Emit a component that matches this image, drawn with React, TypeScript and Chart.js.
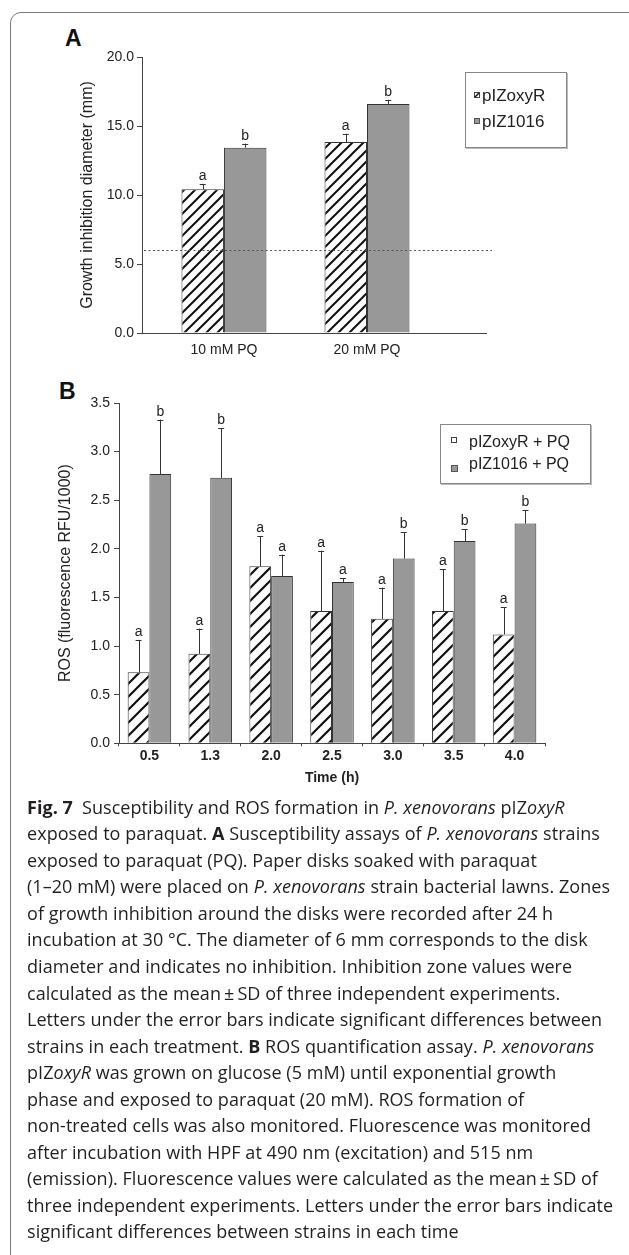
import React, { useEffect, useRef } from 'react';
import { Chart, registerables } from 'chart.js';

Chart.register(...registerables);

// ---------- Panel A data ----------
const categoriesA = ['10 mM PQ', '20 mM PQ'];
const zoxyRA = [10.41, 13.84];
const zoxyRAErr = [0.39, 0.6];
const z1016A = [13.43, 16.6];
const z1016AErr = [0.29, 0.3];
const lettersZoxyRA = ['a', 'a'];
const letters1016A = ['b', 'b'];
const thresholdA = 6.0;

// ---------- Panel B data ----------
const timesB = ['0.5', '1.3', '2.0', '2.5', '3.0', '3.5', '4.0'];
const zoxyRB = [0.73, 0.92, 1.82, 1.36, 1.28, 1.36, 1.12];
const zoxyRBErr = [0.33, 0.26, 0.31, 0.62, 0.32, 0.43, 0.28];
const z1016B = [2.77, 2.73, 1.72, 1.66, 1.9, 2.08, 2.26];
const z1016BErr = [0.56, 0.51, 0.22, 0.04, 0.27, 0.12, 0.14];
const lettersZoxyRB = ['a', 'a', 'a', 'a', 'a', 'a', 'a'];
const letters1016B = ['b', 'b', 'a', 'a', 'b', 'b', 'b'];

const FONT = "'Liberation Sans', Arial, Helvetica, sans-serif";
const TEXT = '#222';
const AXIS = '#444';
const GRAY = '#989898';
const EDGE = '#333';

function makeHatch(ctx: CanvasRenderingContext2D, size: number, lw: number) {
  const c = document.createElement('canvas');
  c.width = size;
  c.height = size;
  const g = c.getContext('2d')!;
  g.fillStyle = '#fff';
  g.fillRect(0, 0, size, size);
  g.strokeStyle = '#111';
  g.lineWidth = lw;
  g.beginPath();
  g.moveTo(-1, size + 1);
  g.lineTo(size + 1, -1);
  g.moveTo(-size / 2 - 1, size / 2 + 1);
  g.lineTo(size / 2 + 1, -size / 2 - 1);
  g.moveTo(size / 2 - 1, size * 1.5 + 1);
  g.lineTo(size * 1.5 + 1, size / 2 - 1);
  g.stroke();
  return ctx.createPattern(c, 'repeat')!;
}

const errorBarPlugin = {
  id: 'errorBars',
  afterDatasetsDraw(chart: any) {
    const ctx = chart.ctx;
    const ys = chart.scales.y;
    chart.data.datasets.forEach((ds: any, di: number) => {
      const meta = chart.getDatasetMeta(di);
      meta.data.forEach((bar: any, i: number) => {
        const d = ds.data[i];
        const v = typeof d === 'number' ? d : d.y;
        const e = ds.errors[i];
        const top = ys.getPixelForValue(v + e);
        ctx.save();
        ctx.strokeStyle = EDGE;
        ctx.lineWidth = 1;
        ctx.beginPath();
        ctx.moveTo(Math.round(bar.x) + 0.5, bar.y);
        ctx.lineTo(Math.round(bar.x) + 0.5, top);
        ctx.moveTo(bar.x - 3, Math.round(top) + 0.5);
        ctx.lineTo(bar.x + 3, Math.round(top) + 0.5);
        ctx.stroke();
        ctx.fillStyle = TEXT;
        ctx.font = `14px ${FONT}`;
        ctx.textAlign = 'center';
        ctx.textBaseline = 'alphabetic';
        ctx.fillText(ds.letters[i], bar.x, top - 4);
        ctx.restore();
      });
    });
  },
};

const thresholdPlugin = {
  id: 'threshold',
  afterDatasetsDraw(chart: any, _args: any, opts: any) {
    if (opts == null || opts.value == null) return;
    const ctx = chart.ctx;
    const y = Math.round(chart.scales.y.getPixelForValue(opts.value)) + 0.5;
    ctx.save();
    ctx.strokeStyle = '#555';
    ctx.lineWidth = 1.2;
    ctx.setLineDash([2, 2.5]);
    ctx.beginPath();
    ctx.moveTo(chart.chartArea.left + 2, y);
    ctx.lineTo(chart.chartArea.right + 6, y);
    ctx.stroke();
    ctx.restore();
  },
};

function ChartA() {
  const ref = useRef<HTMLCanvasElement>(null);
  useEffect(() => {
    const canvas = ref.current!;
    const ctx = canvas.getContext('2d')!;
    const hatch = makeHatch(ctx, 11, 2);
    const chart = new Chart(canvas, {
      type: 'bar',
      data: {
        datasets: [
          {
            label: 'pIZoxyR',
            data: zoxyRA.map((v, i) => ({ x: i + 1, y: v })),
            backgroundColor: hatch,
            borderColor: EDGE,
            borderWidth: 1,
            categoryPercentage: 0.594,
            barPercentage: 1,
            errors: zoxyRAErr,
            letters: lettersZoxyRA,
          } as any,
          {
            label: 'pIZ1016',
            data: z1016A.map((v, i) => ({ x: i + 1, y: v })),
            backgroundColor: GRAY,
            borderColor: EDGE,
            borderWidth: 1,
            categoryPercentage: 0.594,
            barPercentage: 1,
            errors: z1016AErr,
            letters: letters1016A,
          } as any,
        ],
      },
      options: {
        animation: false,
        responsive: false,
        layout: { padding: { left: 78, top: 57, right: 143, bottom: 0 } },
        plugins: {
          legend: { display: false },
          tooltip: { enabled: false },
          threshold: { value: thresholdA },
        } as any,
        scales: {
          x: {
            type: 'linear',
            min: 0.427,
            max: 2.832,
            offset: false,
            afterFit: (s: any) => {
              s.height = 37;
            },
            afterBuildTicks: (s: any) => {
              s.ticks = categoriesA.map((_, i) => ({ value: i + 1 }));
            },
            grid: { display: false, drawTicks: false },
            border: { display: true, color: AXIS, width: 1 },
            ticks: {
              padding: 9,
              color: TEXT,
              font: { family: FONT, size: 14 },
              autoSkip: false,
              maxRotation: 0,
              callback: (v: any) => categoriesA[Number(v) - 1] ?? '',
            },
          },
          y: {
            min: 0,
            max: 20,
            afterFit: (s: any) => {
              s.width = 64;
            },
            ticks: {
              stepSize: 5,
              padding: 3,
              color: TEXT,
              font: { family: FONT, size: 14 },
              callback: (v: any) => Number(v).toFixed(1),
            },
            grid: { drawOnChartArea: false, tickLength: 5, color: AXIS },
            border: { color: AXIS, width: 1 },
            title: {
              display: true,
              text: 'Growth inhibition diameter (mm)',
              padding: 0,
              color: TEXT,
              font: { family: FONT, size: 16 },
            },
          },
        },
      } as any,
      plugins: [errorBarPlugin, thresholdPlugin],
    });
    return () => chart.destroy();
  }, []);
  return (
    <canvas
      ref={ref}
      width={629}
      height={370}
      style={{ position: 'absolute', left: 0, top: 0, width: 629, height: 370 }}
    />
  );
}

function ChartB() {
  const ref = useRef<HTMLCanvasElement>(null);
  useEffect(() => {
    const canvas = ref.current!;
    const ctx = canvas.getContext('2d')!;
    const hatch = makeHatch(ctx, 13, 2.2);
    const chart = new Chart(canvas, {
      type: 'bar',
      data: {
        labels: timesB,
        datasets: [
          {
            label: 'pIZoxyR + PQ',
            data: zoxyRB,
            backgroundColor: hatch,
            borderColor: EDGE,
            borderWidth: 1,
            categoryPercentage: 0.715,
            barPercentage: 1,
            errors: zoxyRBErr,
            letters: lettersZoxyRB,
          } as any,
          {
            label: 'pIZ1016 + PQ',
            data: z1016B,
            backgroundColor: GRAY,
            borderColor: EDGE,
            borderWidth: 1,
            categoryPercentage: 0.715,
            barPercentage: 1,
            errors: z1016BErr,
            letters: letters1016B,
          } as any,
        ],
      },
      options: {
        animation: false,
        responsive: false,
        layout: { padding: { left: 56.4, top: 33, right: 84, bottom: 0 } },
        plugins: {
          legend: { display: false },
          tooltip: { enabled: false },
        },
        scales: {
          x: {
            type: 'category',
            offset: true,
            afterFit: (s: any) => {
              s.height = 56.7;
            },
            grid: { display: true, offset: true, drawOnChartArea: false, tickLength: 3, color: AXIS },
            border: { display: true, color: AXIS, width: 1 },
            ticks: {
              padding: 1,
              color: TEXT,
              font: { family: FONT, size: 14, weight: 'bold' },
              autoSkip: false,
              maxRotation: 0,
            },
            title: {
              display: true,
              text: 'Time (h)',
              padding: { top: 0, bottom: 13.6 },
              color: TEXT,
              font: { family: FONT, size: 14, weight: 'bold' },
            },
          },
          y: {
            min: 0,
            max: 3.5,
            afterFit: (s: any) => {
              s.width = 62.6;
            },
            ticks: {
              stepSize: 0.5,
              padding: 4,
              color: TEXT,
              font: { family: FONT, size: 14 },
              callback: (v: any) => Number(v).toFixed(1),
            },
            grid: { drawOnChartArea: false, tickLength: 5, color: AXIS },
            border: { color: AXIS, width: 1 },
            title: {
              display: true,
              text: 'ROS (fluorescence RFU/1000)',
              padding: 0,
              color: TEXT,
              font: { family: FONT, size: 16 },
            },
          },
        },
      } as any,
      plugins: [errorBarPlugin],
    });
    return () => chart.destroy();
  }, []);
  return (
    <canvas
      ref={ref}
      width={629}
      height={430}
      style={{ position: 'absolute', left: 0, top: 370, width: 629, height: 430 }}
    />
  );
}

type Seg = [string, string?];
const captionLines: Seg[][] = [
  [['Fig. 7', 'b'], ['\u2002Susceptibility and ROS formation in '], ['P. xenovorans', 'i'], [' pIZ'], ['oxyR', 'i']],
  [['exposed to paraquat. '], ['A', 'b'], [' Susceptibility assays of '], ['P. xenovorans', 'i'], [' strains']],
  [['exposed to paraquat (PQ). Paper disks soaked with paraquat']],
  [['(1\u201320 mM) were placed on '], ['P. xenovorans', 'i'], [' strain bacterial lawns. Zones']],
  [['of growth inhibition around the disks were recorded after 24 h']],
  [['incubation at 30 \u00b0C. The diameter of 6 mm corresponds to the disk']],
  [['diameter and indicates no inhibition. Inhibition zone values were']],
  [['calculated as the mean\u2009\u00b1\u2009SD of three independent experiments.']],
  [['Letters under the error bars indicate significant differences between']],
  [['strains in each treatment. '], ['B', 'b'], [' ROS quantification assay. '], ['P. xenovorans', 'i']],
  [['pIZ'], ['oxyR', 'i'], [' was grown on glucose (5 mM) until exponential growth']],
  [['phase and exposed to paraquat (20 mM). ROS formation of']],
  [['non-treated cells was also monitored. Fluorescence was monitored']],
  [['after incubation with HPF at 490 nm (excitation) and 515 nm']],
  [['(emission). Fluorescence values were calculated as the mean\u2009\u00b1\u2009SD of']],
  [['three independent experiments. Letters under the error bars indicate']],
  [['significant differences between strains in each time']],
];

function Swatch({ kind, x, y, s }: { kind: string; x: number; y: number; s: number }) {
  return (
    <svg
      width={s}
      height={s}
      style={{ position: 'absolute', left: x, top: y }}
      viewBox={`0 0 ${s} ${s}`}
    >
      <rect
        x={0.5}
        y={0.5}
        width={s - 1}
        height={s - 1}
        fill={kind === 'gray' ? GRAY : '#fff'}
        stroke={kind === 'gray' ? '#555' : '#444'}
        strokeWidth={1}
      />
      {kind === 'hatch' && <line x1={1} y1={s - 1} x2={s - 1} y2={1} stroke="#111" strokeWidth={1.5} />}
    </svg>
  );
}

export default function App() {
  useEffect(() => {
    document.body.style.margin = '0';
  }, []);
  const legendText: React.CSSProperties = {
    position: 'absolute',
    fontFamily: FONT,
    color: TEXT,
    whiteSpace: 'nowrap',
    lineHeight: '20px',
  };
  return (
    <div
      style={{
        position: 'absolute',
        left: 0,
        top: 0,
        width: 629,
        height: 1255,
        overflow: 'hidden',
        background: '#fff',
      }}
    >
      <div
        style={{
          position: 'absolute',
          left: 10,
          top: 12,
          width: 660,
          height: 1300,
          border: '1px solid #7a7a7a',
          borderRadius: 11,
          boxSizing: 'border-box',
        }}
      />
      <div
        style={{
          position: 'absolute',
          left: 65,
          top: 27,
          font: `bold 23px/23px ${FONT}`,
          color: '#111',
        }}
      >
        A
      </div>
      <div
        style={{
          position: 'absolute',
          left: 59,
          top: 380,
          font: `bold 23px/23px ${FONT}`,
          color: '#111',
        }}
      >
        B
      </div>
      <ChartA />
      <ChartB />

      {/* Legend A */}
      <div
        style={{
          position: 'absolute',
          left: 465,
          top: 72,
          width: 102,
          height: 76,
          border: '1px solid #888',
          boxSizing: 'border-box',
          boxShadow: '1px 1px 0 #bbb',
        }}
      />
      <Swatch kind="hatch" x={474} y={92} s={6} />
      <div style={{ ...legendText, left: 482, top: 86, fontSize: 17 }}>pIZoxyR</div>
      <Swatch kind="gray" x={474} y={118} s={6} />
      <div style={{ ...legendText, left: 482, top: 112, fontSize: 17 }}>pIZ1016</div>

      {/* Legend B */}
      <div
        style={{
          position: 'absolute',
          left: 440,
          top: 424,
          width: 151,
          height: 60,
          border: '1px solid #888',
          boxSizing: 'border-box',
          boxShadow: '1px 1px 0 #bbb',
        }}
      />
      <Swatch kind="white" x={451} y={437} s={6} />
      <div style={{ ...legendText, left: 469, top: 432, fontSize: 16 }}>pIZoxyR + PQ</div>
      <Swatch kind="gray" x={451} y={465} s={7} />
      <div style={{ ...legendText, left: 469, top: 453.5, fontSize: 16 }}>pIZ1016 + PQ</div>

      {/* Caption */}
      <div
        style={{
          position: 'absolute',
          left: 27,
          top: 793.7,
          fontFamily: "'Open Sans', 'Noto Sans', sans-serif",
          fontSize: 18,
          letterSpacing: '0.05px',
          lineHeight: '26.55px',
          color: '#231f20',
        }}
      >
        {captionLines.map((line, li) => (
          <div key={li} style={{ whiteSpace: 'nowrap' }}>
            {line.map(([t, st], si) =>
              st === 'b' ? (
                <b key={si}>{t}</b>
              ) : st === 'i' ? (
                <i key={si}>{t}</i>
              ) : (
                <span key={si}>{t}</span>
              )
            )}
          </div>
        ))}
      </div>
    </div>
  );
}
